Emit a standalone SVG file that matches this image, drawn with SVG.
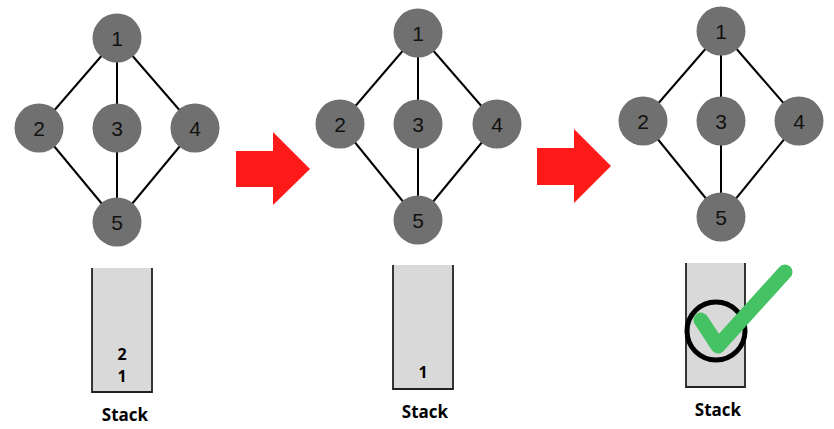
<svg xmlns="http://www.w3.org/2000/svg" width="834" height="429" viewBox="0 0 834 429">
  <style>
    .edge { stroke: #000; stroke-width: 2; fill: none; }
    .node circle { fill: #707070; }
    .node text { font-family: "Liberation Sans", Arial, sans-serif; font-size: 21px; fill: #111; text-anchor: middle; dominant-baseline: central; }
    .stack { fill: #d9d9d9; }
    .wall { stroke: #222; stroke-width: 1.8; fill: none; }
    .item { font-family: "Open Sans", "DejaVu Sans", sans-serif; font-weight: bold; font-size: 16px; fill: #000; text-anchor: middle; dominant-baseline: central; }
    .caption { font-family: "Open Sans", "DejaVu Sans", sans-serif; font-weight: bold; font-size: 17px; fill: #000; text-anchor: middle; }
    .arrow { fill: #ff1a1a; }
  </style>

  <!-- Graph A -->
  <g id="connectors-a">
    <line class="edge" x1="117" y1="38" x2="39" y2="128"/>
    <line class="edge" x1="117" y1="38" x2="117" y2="128"/>
    <line class="edge" x1="117" y1="38" x2="195" y2="128"/>
    <line class="edge" x1="39" y1="128" x2="117" y2="222"/>
    <line class="edge" x1="117" y1="128" x2="117" y2="222"/>
    <line class="edge" x1="195" y1="128" x2="117" y2="222"/>
  </g>
  <g id="a-node-1" class="node"><circle cx="117" cy="38" r="24.5"/><text x="117" y="38">1</text></g>
  <g id="a-node-2" class="node"><circle cx="39" cy="128" r="24.5"/><text x="39" y="128">2</text></g>
  <g id="a-node-3" class="node"><circle cx="117" cy="128" r="24.5"/><text x="117" y="128">3</text></g>
  <g id="a-node-4" class="node"><circle cx="195" cy="128" r="24.5"/><text x="195" y="128">4</text></g>
  <g id="a-node-5" class="node"><circle cx="117" cy="222" r="24.5"/><text x="117" y="222">5</text></g>

  <!-- Graph B -->
  <g id="connectors-b">
    <line class="edge" x1="418" y1="33" x2="340" y2="124"/>
    <line class="edge" x1="418" y1="33" x2="418" y2="124"/>
    <line class="edge" x1="418" y1="33" x2="497" y2="124"/>
    <line class="edge" x1="340" y1="124" x2="418" y2="220"/>
    <line class="edge" x1="418" y1="124" x2="418" y2="220"/>
    <line class="edge" x1="497" y1="124" x2="418" y2="220"/>
  </g>
  <g id="b-node-1" class="node"><circle cx="418" cy="33" r="24.5"/><text x="418" y="33">1</text></g>
  <g id="b-node-2" class="node"><circle cx="340" cy="124" r="24.5"/><text x="340" y="124">2</text></g>
  <g id="b-node-3" class="node"><circle cx="418" cy="124" r="24.5"/><text x="418" y="124">3</text></g>
  <g id="b-node-4" class="node"><circle cx="497" cy="124" r="24.5"/><text x="497" y="124">4</text></g>
  <g id="b-node-5" class="node"><circle cx="418" cy="220" r="24.5"/><text x="418" y="220">5</text></g>

  <!-- Graph C -->
  <g id="connectors-c">
    <line class="edge" x1="721" y1="31" x2="643" y2="121"/>
    <line class="edge" x1="721" y1="31" x2="721" y2="121"/>
    <line class="edge" x1="721" y1="31" x2="799" y2="121"/>
    <line class="edge" x1="643" y1="121" x2="721" y2="217"/>
    <line class="edge" x1="721" y1="121" x2="721" y2="217"/>
    <line class="edge" x1="799" y1="121" x2="721" y2="217"/>
  </g>
  <g id="c-node-1" class="node"><circle cx="721" cy="31" r="24.5"/><text x="721" y="31">1</text></g>
  <g id="c-node-2" class="node"><circle cx="643" cy="121" r="24.5"/><text x="643" y="121">2</text></g>
  <g id="c-node-3" class="node"><circle cx="721" cy="121" r="24.5"/><text x="721" y="121">3</text></g>
  <g id="c-node-4" class="node"><circle cx="799" cy="121" r="24.5"/><text x="799" y="121">4</text></g>
  <g id="c-node-5" class="node"><circle cx="721" cy="217" r="24.5"/><text x="721" y="217">5</text></g>

  <!-- Step arrows -->
  <g id="arrow-1"><polygon class="arrow" points="236,151 273,151 273,132 310,169 273,205 273,187 236,187"/></g>
  <g id="arrow-2"><polygon class="arrow" points="537,148 574,148 574,129 611,166 574,203 574,185 537,185"/></g>

  <!-- Stack A -->
  <g id="stack-a">
    <rect class="stack" x="92" y="268" width="60" height="124"/>
    <polyline class="wall" points="92,268 92,392 152,392 152,268"/>
    <text class="item" x="122" y="354">2</text>
    <text class="item" x="122" y="376">1</text>
    <text class="caption" x="125" y="421">Stack</text>
  </g>

  <!-- Stack B -->
  <g id="stack-b">
    <rect class="stack" x="393" y="265" width="60" height="124"/>
    <polyline class="wall" points="393,265 393,389 453,389 453,265"/>
    <text class="item" x="423" y="372">1</text>
    <text class="caption" x="425" y="418">Stack</text>
  </g>

  <!-- Stack C (empty, done) -->
  <g id="stack-c">
    <rect class="stack" x="686" y="263" width="59" height="124"/>
    <polyline class="wall" points="686,263 686,387 745,387 745,263"/>
    <circle cx="716" cy="331" r="29" fill="none" stroke="#000" stroke-width="5"/>
    <polyline points="701,320 718,346 785,272" fill="none" stroke="#45c263" stroke-width="15" stroke-linecap="round" stroke-linejoin="round"/>
    <text class="caption" x="718" y="416">Stack</text>
  </g>
</svg>
